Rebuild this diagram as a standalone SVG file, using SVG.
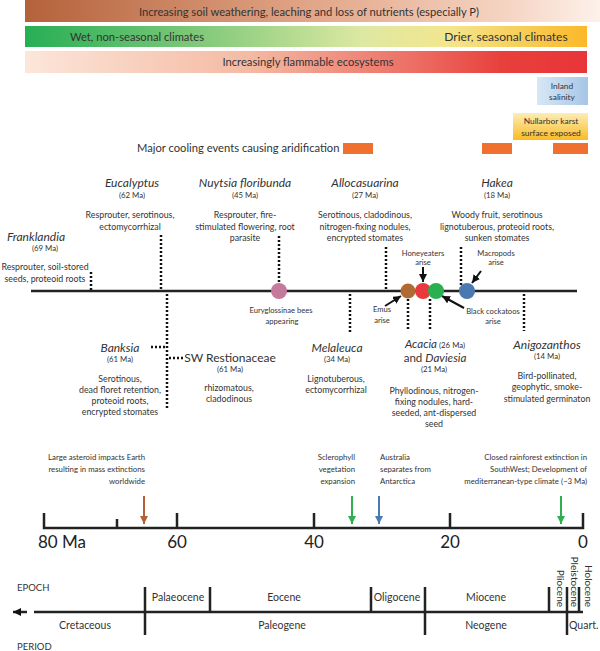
<svg xmlns="http://www.w3.org/2000/svg" width="600" height="651" viewBox="0 0 600 651">
<defs>
<linearGradient id="g1" x1="0" y1="0" x2="1" y2="0"><stop offset="0" stop-color="#b4623a"/><stop offset="0.5" stop-color="#e2a688"/><stop offset="0.85" stop-color="#f6d6c5"/><stop offset="1" stop-color="#fdf1ea"/></linearGradient>
<linearGradient id="g2" x1="0" y1="0" x2="1" y2="0"><stop offset="0" stop-color="#27ae55"/><stop offset="0.3" stop-color="#7dc878"/><stop offset="0.6" stop-color="#dde8a2"/><stop offset="0.75" stop-color="#f3e68f"/><stop offset="1" stop-color="#fbb829"/></linearGradient>
<linearGradient id="g3" x1="0" y1="0" x2="1" y2="0"><stop offset="0" stop-color="#fce6da"/><stop offset="0.4" stop-color="#f4baa3"/><stop offset="0.7" stop-color="#ec6c62"/><stop offset="0.85" stop-color="#e8403c"/><stop offset="1" stop-color="#e83539"/></linearGradient>
<linearGradient id="gIn" x1="0" y1="0" x2="1" y2="0"><stop offset="0" stop-color="#d8e7f5"/><stop offset="1" stop-color="#a6c6e6"/></linearGradient>
<linearGradient id="gNu" x1="0" y1="0" x2="0" y2="1"><stop offset="0" stop-color="#fdedb6"/><stop offset="1" stop-color="#fbbb24"/></linearGradient>
<marker id="aK" markerUnits="userSpaceOnUse" markerWidth="8" markerHeight="8" refX="8" refY="4" orient="auto"><path d="M0,0 L8,4 L0,8 z" fill="#111"/></marker>
<marker id="aBr" markerUnits="userSpaceOnUse" markerWidth="8" markerHeight="8" refX="8" refY="4" orient="auto"><path d="M0,0 L8,4 L0,8 z" fill="#b5603a"/></marker>
<marker id="aG" markerUnits="userSpaceOnUse" markerWidth="8" markerHeight="8" refX="8" refY="4" orient="auto"><path d="M0,0 L8,4 L0,8 z" fill="#2eb050"/></marker>
<marker id="aB" markerUnits="userSpaceOnUse" markerWidth="8" markerHeight="8" refX="8" refY="4" orient="auto"><path d="M0,0 L8,4 L0,8 z" fill="#4a7ab0"/></marker>
</defs>
<style>
text { font-family: Lato, "Liberation Sans", sans-serif; fill: #333; }
.bt { font-size: 11.2px; text-anchor: middle; }
.sp { font-size: 12px; font-style: italic; text-anchor: middle; }
.age { font-size: 7.8px; text-anchor: middle; }
.desc { font-size: 8.8px; text-anchor: middle; }
.tiny { font-size: 7.6px; text-anchor: middle; }
.ev { font-size: 7.8px; }
.dot { stroke: #111; stroke-width: 2.5; stroke-dasharray: 2 2; fill: none; }
.ax { stroke: #222; stroke-width: 2.5; fill: none; }
.num { font-size: 17px; text-anchor: middle; fill: #222; }
.ep { font-size: 10.5px; text-anchor: middle; }
.arr { stroke-width: 2; fill: none; }
.box { font-size: 8.4px; text-anchor: middle; }
</style>

<g id="band-soil"><rect x="25" y="0" width="575" height="22" fill="url(#g1)"/><text class="bt" x="309" y="16">Increasing soil weathering, leaching and loss of nutrients (especially P)</text></g>
<g id="band-climate"><rect x="25" y="26" width="562" height="21" fill="url(#g2)"/><text class="bt" x="137" y="41">Wet, non-seasonal climates</text><text x="506" y="41" style="font-size:12px;text-anchor:middle">Drier, seasonal climates</text></g>
<g id="band-fire"><rect x="25" y="51" width="562" height="22" fill="url(#g3)"/><text class="bt" x="308" y="66">Increasingly flammable ecosystems</text></g>
<g id="inland-salinity"><rect x="537" y="77" width="51" height="28" fill="url(#gIn)"/><text class="box" x="562" y="89">Inland</text><text class="box" x="562" y="100">salinity</text></g>
<g id="nullarbor"><rect x="513" y="113" width="75" height="27" fill="url(#gNu)"/><text class="box" x="551" y="124">Nullarbor karst</text><text class="box" x="551" y="136">surface exposed</text></g>
<g id="cooling"><text x="137" y="152" style="font-size:11.2px">Major cooling events causing aridification</text><rect x="343" y="143" width="30" height="11" fill="#f07030"/><rect x="482" y="143" width="30" height="11" fill="#f07030"/><rect x="553" y="143" width="35" height="11" fill="#f07030"/></g>

<g id="connectors">
<line class="ax" x1="31" y1="291" x2="577" y2="291"/>
<line class="dot" x1="91" y1="272" x2="91" y2="291"/>
<line class="dot" x1="161" y1="235" x2="161" y2="291"/>
<line class="dot" x1="279" y1="236" x2="279" y2="283"/>
<line class="dot" x1="386" y1="247" x2="386" y2="291"/>
<line class="dot" x1="461" y1="247" x2="461" y2="289"/>
<line class="dot" x1="167" y1="294" x2="167" y2="410"/>
<line class="dot" x1="151" y1="347" x2="166" y2="347"/>
<line class="dot" x1="169" y1="358" x2="183" y2="358"/>
<line class="dot" x1="350" y1="294" x2="350" y2="333"/>
<line class="dot" x1="408" y1="299" x2="408" y2="330"/>
<line class="dot" x1="430" y1="299" x2="430" y2="329"/>
<line class="dot" x1="524" y1="294" x2="524" y2="331"/>
<line class="arr" stroke="#111" x1="423" y1="267" x2="423" y2="282" marker-end="url(#aK)"/>
<line class="arr" stroke="#111" x1="481" y1="271" x2="472" y2="283" marker-end="url(#aK)"/>
<line class="arr" stroke="#111" x1="385" y1="306" x2="401" y2="296" marker-end="url(#aK)"/>
<line class="arr" stroke="#111" x1="464" y1="308" x2="442" y2="296" marker-end="url(#aK)"/>
<line class="arr" stroke="#b5603a" x1="144" y1="496" x2="144" y2="524" marker-end="url(#aBr)"/>
<line class="arr" stroke="#2eb050" x1="352" y1="496" x2="352" y2="524" marker-end="url(#aG)"/>
<line class="arr" stroke="#4a7ab0" x1="379" y1="496" x2="379" y2="524" marker-end="url(#aB)"/>
<line class="arr" stroke="#2eb050" x1="561" y1="496" x2="561" y2="524" marker-end="url(#aG)"/>
</g>

<g id="franklandia"><text class="sp" x="36" y="241">Franklandia</text><text class="age" x="45" y="251">(69 Ma)</text><text class="desc" x="45" y="270">Resprouter, soil-stored</text><text class="desc" x="45" y="282">seeds, proteoid roots</text></g>
<g id="eucalyptus"><text class="sp" x="132" y="187">Eucalyptus</text><text class="age" x="132" y="198">(62 Ma)</text><text class="desc" x="130" y="218">Resprouter, serotinous,</text><text class="desc" x="130" y="230">ectomycorrhizal</text></g>
<g id="nuytsia"><text class="sp" x="245" y="187">Nuytsia floribunda</text><text class="age" x="245" y="198">(45 Ma)</text><text class="desc" x="245" y="218">Resprouter, fire-</text><text class="desc" x="245" y="230">stimulated flowering, root</text><text class="desc" x="245" y="241">parasite</text></g>
<g id="allocasuarina"><text class="sp" x="365" y="187">Allocasuarina</text><text class="age" x="365" y="198">(27 Ma)</text><text class="desc" x="365" y="218">Serotinous, cladodinous,</text><text class="desc" x="365" y="230">nitrogen-fixing nodules,</text><text class="desc" x="365" y="241">encrypted stomates</text></g>
<g id="hakea"><text class="sp" x="497" y="187">Hakea</text><text class="age" x="497" y="198">(18 Ma)</text><text class="desc" x="497" y="218">Woody fruit, serotinous</text><text class="desc" x="497" y="230">lignotuberous, proteoid roots,</text><text class="desc" x="497" y="241">sunken stomates</text></g>
<g id="banksia"><text class="sp" x="120" y="352">Banksia</text><text class="age" x="120" y="362">(61 Ma)</text><text class="desc" x="120" y="382">Serotinous,</text><text class="desc" x="120" y="393">dead floret retention,</text><text class="desc" x="120" y="404">proteoid roots,</text><text class="desc" x="120" y="415">encrypted stomates</text></g>
<g id="restionaceae"><text x="230" y="362" style="font-size:12px;text-anchor:middle">SW Restionaceae</text><text class="age" x="230" y="372">(61 Ma)</text><text class="desc" x="229" y="391">rhizomatous,</text><text class="desc" x="229" y="402">cladodinous</text></g>
<g id="melaleuca"><text class="sp" x="337" y="352">Melaleuca</text><text class="age" x="337" y="362">(34 Ma)</text><text class="desc" x="336" y="382">Lignotuberous,</text><text class="desc" x="336" y="393">ectomycorrhizal</text></g>
<g id="acacia-daviesia"><text x="435" y="348" style="font-size:11.6px;text-anchor:middle"><tspan font-style="italic">Acacia</tspan><tspan style="font-size:7.8px"> (26 Ma)</tspan></text><text x="435" y="362" style="font-size:11.6px;text-anchor:middle">and <tspan font-style="italic">Daviesia</tspan></text><text class="age" x="434" y="372">(21 Ma)</text><text class="desc" x="434" y="394">Phyllodinous, nitrogen-</text><text class="desc" x="434" y="405">fixing nodules, hard-</text><text class="desc" x="434" y="416">seeded, ant-dispersed</text><text class="desc" x="434" y="427">seed</text></g>
<g id="anigozanthos"><text class="sp" x="547" y="349">Anigozanthos</text><text class="age" x="547" y="359">(14 Ma)</text><text class="desc" x="547" y="379">Bird-pollinated,</text><text class="desc" x="547" y="390">geophytic, smoke-</text><text class="desc" x="547" y="402">stimulated germinaton</text></g>

<g id="euryglossinae"><circle cx="279" cy="291" r="8" fill="#c47a9a"/><text class="tiny" x="281" y="313">Euryglossinae bees</text><text class="tiny" x="282" y="324">appearing</text></g>
<g id="emus"><circle cx="408" cy="291" r="7.5" fill="#b06a34"/><text class="tiny" x="382" y="312">Emus</text><text class="tiny" x="382" y="323">arise</text></g>
<g id="honeyeaters"><circle cx="423" cy="291" r="8" fill="#e8393c"/><text class="tiny" x="423" y="256">Honeyeaters</text><text class="tiny" x="423" y="265">arise</text></g>
<g id="black-cockatoos"><circle cx="436" cy="291" r="8" fill="#2ab050"/><text class="tiny" x="493" y="314">Black cockatoos</text><text class="tiny" x="493" y="324">arise</text></g>
<g id="macropods"><circle cx="467" cy="291" r="8" fill="#4a79b2"/><text class="tiny" x="496" y="256">Macropods</text><text class="tiny" x="496" y="265">arise</text></g>

<g id="time-axis">
<path class="ax" d="M44,513 V528 H583 V513 M117,519 V528 M177,513 V528 M314,513 V528 M450,513 V528"/>
<text class="num" x="62" y="548">80 Ma</text><text class="num" x="177" y="548">60</text><text class="num" x="314" y="548">40</text><text class="num" x="450" y="548">20</text><text class="num" x="583" y="548">0</text>
</g>
<g id="asteroid"><text class="ev" x="145" y="460" text-anchor="end">Large asteroid impacts Earth</text><text class="ev" x="145" y="472" text-anchor="end">resulting in  mass extinctions</text><text class="ev" x="145" y="484" text-anchor="end">worldwide</text></g>
<g id="sclerophyll"><text class="ev" x="355" y="460" text-anchor="end">Sclerophyll</text><text class="ev" x="355" y="472" text-anchor="end">vegetation</text><text class="ev" x="355" y="484" text-anchor="end">expansion</text></g>
<g id="separation"><text class="ev" x="380" y="460">Australia</text><text class="ev" x="380" y="472">separates from</text><text class="ev" x="380" y="484">Antarctica</text></g>
<g id="rainforest"><text class="ev" x="587" y="460" text-anchor="end">Closed rainforest extinction in</text><text class="ev" x="587" y="472" text-anchor="end">SouthWest; Development of</text><text class="ev" x="587" y="484" text-anchor="end">mediterranean-type climate (~3 Ma)</text></g>

<g id="epochs">
<path class="ax" d="M34,612 H583 M145,587 V635 M210,587 V612 M371,587 V612 M425,587 V635 M549,587 V612 M567,587 V635 M579,587 V612"/>
<line class="ax" x1="27" y1="612" x2="13" y2="612" marker-end="url(#aK)"/>
<text x="17" y="591" style="font-size:9.5px">EPOCH</text>
<text x="17" y="650" style="font-size:9.5px">PERIOD</text>
<text class="ep" x="178" y="601">Palaeocene</text>
<text class="ep" x="284" y="601">Eocene</text>
<text class="ep" x="397" y="601">Oligocene</text>
<text class="ep" x="486" y="601">Miocene</text>
<text class="ep" x="85" y="629">Cretaceous</text>
<text class="ep" x="282" y="629">Paleogene</text>
<text class="ep" x="486" y="629">Neogene</text>
<text x="569" y="629" style="font-size:10.5px">Quart.</text>
<text transform="translate(557,607) rotate(90)" style="font-size:10px;text-anchor:end">Pliocene</text>
<text transform="translate(571,607) rotate(90)" style="font-size:10px;text-anchor:end">Pleistocene</text>
<text transform="translate(585,607) rotate(90)" style="font-size:10px;text-anchor:end">Holocene</text>
</g>
</svg>
